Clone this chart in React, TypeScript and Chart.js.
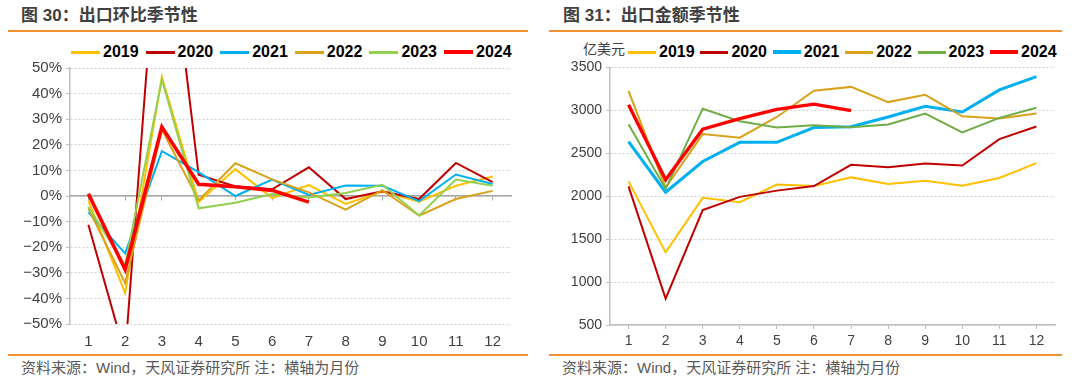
import React, { useEffect, useRef } from 'react';
import { Chart, registerables } from 'chart.js';

Chart.register(...registerables);

// ---------- data ----------
const months = ['1', '2', '3', '4', '5', '6', '7', '8', '9', '10', '11', '12'];
const years = ['2019', '2020', '2021', '2022', '2023', '2024'];

// 图30 出口环比 (%)
const mom2019 = [-1.8, -37.9, 46.5, -2.3, 10.5, -0.8, 4.3, -3.1, 1.7, -2.2, 4.0, 7.6];
const mom2020 = [-11.2, -62.0, 128.0, 8.3, 3.7, 2.6, 11.2, -1.2, 1.8, -1.2, 12.9, 5.4];
const mom2021 = [-6.4, -22.4, 17.5, 9.3, 0.0, 6.4, 0.4, 4.1, 4.0, -2.0, 8.4, 4.7];
const mom2022 = [-4.9, -34.0, 26.0, -1.7, 12.8, 6.5, 1.4, -5.3, 2.3, -7.7, -1.2, 2.0];
const mom2023 = [-4.3, -27.0, 45.5, -4.8, -2.6, 0.8, -0.6, 1.2, 4.4, -7.6, 6.4, 4.0];
const mom2024 = [0.9, -28.7, 27.0, 4.6, 3.6, 2.2, -2.4];

// 图31 出口金额 (亿美元)
const amt2019 = [2173, 1346, 1981, 1931, 2135, 2120, 2219, 2142, 2181, 2123, 2212, 2385];
const amt2020 = [2115, 808, 1838, 1992, 2065, 2118, 2365, 2338, 2381, 2358, 2665, 2812];
const amt2021 = [2635, 2046, 2404, 2627, 2627, 2800, 2808, 2923, 3046, 2981, 3238, 3392];
const amt2022 = [3227, 2100, 2723, 2681, 2923, 3228, 3273, 3096, 3181, 2931, 2904, 2962];
const amt2023 = [2838, 2085, 3019, 2873, 2800, 2827, 2804, 2835, 2962, 2742, 2912, 3031];
const amt2024 = [3065, 2192, 2781, 2904, 3012, 3072, 2996];

const momSeries = [mom2019, mom2020, mom2021, mom2022, mom2023, mom2024];
const amtSeries = [amt2019, amt2020, amt2021, amt2022, amt2023, amt2024];

const leftColors = ['#FFC000', '#C00000', '#00B0F0', '#D9A21B', '#92D050', '#FF0000'];
const rightColors = ['#FFC000', '#C00000', '#00B0F0', '#D9A21B', '#70AD47', '#FF0000'];
const leftWidths = [2, 2, 2, 2, 2, 3.6];
const rightWidths = [2, 2, 3, 2, 2, 3.4];

const momTicks = { min: -50, max: 50, step: 10 };
const amtTicks = { min: 500, max: 3500, step: 500 };

const FONT = '"Liberation Sans", Arial, "Noto Sans CJK SC", sans-serif';
const CJK = '"Liberation Sans", Arial, "Noto Sans CJK SC", sans-serif';
const ORANGE = '#F39130';
const TEXT = '#404040';

type PanelProps = {
  series: number[][];
  colors: string[];
  widths: number[];
  range: { min: number; max: number; step: number };
  fmt: (v: number) => string;
  fontSize: number;
  zeroAxis: boolean;
  padRight: number;
  xHeight: number;
  left: number;
};

function LineChart(p: PanelProps) {
  const ref = useRef<HTMLCanvasElement | null>(null);
  useEffect(() => {
    if (!ref.current) return;
    const n = p.series.length;
    const datasets = p.series.map((d, i) => ({
      label: years[i],
      data: d,
      borderColor: p.colors[i],
      backgroundColor: p.colors[i],
      borderWidth: p.widths[i],
      pointRadius: 0,
      pointHoverRadius: 0,
      tension: 0,
      fill: false,
      order: n - i,
    }));
    const scales: any = {
      x: {
        type: 'category',
        offset: true,
        grid: p.zeroAxis
          ? { display: false, drawTicks: false }
          : { display: true, drawOnChartArea: false, drawTicks: true, tickLength: 4, color: '#BFBFBF', tickColor: '#BFBFBF' },
        border: { display: !p.zeroAxis, color: '#BFBFBF', width: 1.5 },
        ticks: {
          color: TEXT,
          font: { family: FONT, size: p.fontSize },
          padding: p.zeroAxis ? 9 : 4,
          maxRotation: 0,
          autoSkip: false,
        },
        afterFit: (s: any) => {
          s.height = p.xHeight;
        },
      },
      y: {
        min: p.range.min,
        max: p.range.max,
        ticks: {
          stepSize: p.range.step,
          color: TEXT,
          font: { family: FONT, size: p.fontSize },
          padding: 4,
          callback: (v: any) => p.fmt(Number(v)),
        },
        grid: {
          color: '#D0D0D0',
          lineWidth: 1,
          drawTicks: true,
          tickLength: 4,
          tickColor: '#BFBFBF',
          tickBorderDash: [],
        },
        border: { display: true, color: '#BFBFBF', width: 1.5, dash: [2, 2] },
        afterFit: (s: any) => {
          s.width = 70;
        },
      },
    };
    if (p.zeroAxis) {
      scales.x2 = {
        type: 'category',
        labels: months,
        offset: true,
        position: { y: 0 },
        grid: { display: true, drawOnChartArea: false, drawTicks: true, tickLength: 4, color: '#A6A6A6', tickColor: '#A6A6A6' },
        border: { display: true, color: '#A6A6A6', width: 1.5 },
        ticks: { display: false },
      };
    }
    const chart = new Chart(ref.current, {
      type: 'line',
      data: { labels: months, datasets },
      options: {
        animation: false,
        responsive: false,
        devicePixelRatio: 1,
        layout: { padding: { left: 0, top: 10, right: p.padRight, bottom: 0 } },
        plugins: { legend: { display: false }, tooltip: { enabled: false } },
        scales,
      } as any,
    });
    return () => chart.destroy();
  }, []);
  return (
    <canvas
      ref={ref}
      width={540}
      height={300}
      style={{ position: 'absolute', left: p.left, top: 55, width: 540, height: 300 }}
    />
  );
}

function Legend({ left, spacing, lineW, colors, widths }: { left: number; spacing: number; lineW: number; colors: string[]; widths: number[] }) {
  return (
    <>
      {years.map((y, i) => (
        <div
          key={y}
          style={{
            position: 'absolute',
            left: left + i * spacing,
            top: 42,
            height: 20,
            display: 'flex',
            alignItems: 'center',
            whiteSpace: 'nowrap',
          }}
        >
          <div style={{ width: lineW, height: widths[i] + 1, background: colors[i], marginRight: 3 }} />
          <span style={{ font: `bold 16px ${FONT}`, color: '#000' }}>{y}</span>
        </div>
      ))}
    </>
  );
}

const minus = (v: number) => (v < 0 ? '\u2212' + Math.abs(v) : String(v));

export default function App() {
  const titleStyle: React.CSSProperties = {
    position: 'absolute',
    top: 6,
    font: `bold 17px ${CJK}`,
    color: TEXT,
    lineHeight: '20px',
    whiteSpace: 'nowrap',
  };
  const footStyle: React.CSSProperties = {
    position: 'absolute',
    top: 359,
    font: `15px ${CJK}`,
    color: '#595959',
    lineHeight: '18px',
    whiteSpace: 'nowrap',
  };
  return (
    <div style={{ position: 'absolute', left: 0, top: 0, width: 1080, height: 380, background: '#fff', overflow: 'hidden' }}>
      <div style={{ ...titleStyle, left: 21 }}>图 30：出口环比季节性</div>
      <div style={{ ...titleStyle, left: 563 }}>图 31：出口金额季节性</div>
      <div style={{ position: 'absolute', left: 8, top: 30, width: 520, height: 2, background: ORANGE }} />
      <div style={{ position: 'absolute', left: 549, top: 30, width: 513, height: 2, background: ORANGE }} />

      <Legend left={71} spacing={74.6} lineW={29} colors={leftColors} widths={leftWidths} />
      <div style={{ position: 'absolute', left: 583, top: 40, font: `14px ${CJK}`, color: TEXT, lineHeight: '18px' }}>亿美元</div>
      <Legend left={628} spacing={72.4} lineW={28} colors={rightColors} widths={rightWidths} />

      <LineChart
        series={momSeries}
        colors={leftColors}
        widths={leftWidths}
        range={momTicks}
        fmt={(v) => minus(v) + '%'}
        fontSize={15}
        zeroAxis={true}
        padRight={29}
        xHeight={31}
        left={0}
      />
      <LineChart
        series={amtSeries}
        colors={rightColors}
        widths={rightWidths}
        range={amtTicks}
        fmt={(v) => String(v)}
        fontSize={14}
        zeroAxis={false}
        padRight={25}
        xHeight={30}
        left={540}
      />

      <div style={{ position: 'absolute', left: 8, top: 354, width: 520, height: 2, background: ORANGE }} />
      <div style={{ position: 'absolute', left: 549, top: 354, width: 513, height: 2, background: ORANGE }} />
      <div style={{ ...footStyle, left: 21 }}>资料来源：Wind，天风证券研究所 注：横轴为月份</div>
      <div style={{ ...footStyle, left: 562 }}>资料来源：Wind，天风证券研究所 注：横轴为月份</div>
    </div>
  );
}
